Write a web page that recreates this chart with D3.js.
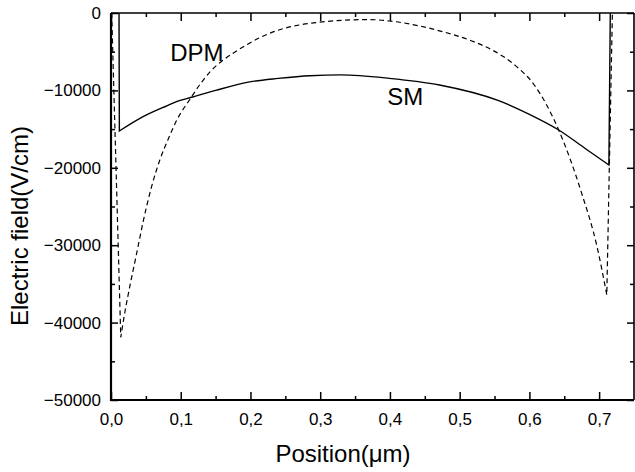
<!DOCTYPE html>
<html>
<head>
<meta charset="utf-8">
<script src="https://cdn.jsdelivr.net/npm/d3@7"></script>
<style>
  html, body { margin: 0; padding: 0; background: #fff; }
  svg { display: block; font-family: "Liberation Sans", Arial, sans-serif; }
</style>
</head>
<body>
<svg id="chart" width="635" height="472"></svg>
<script>
// ---- data ----
const smX  = [0.0115, 0.012, 0.046, 0.080, 0.094, 0.117, 0.150, 0.199, 0.240, 0.285, 0.330, 0.399, 0.471, 0.556, 0.600, 0.642, 0.680, 0.714, 0.716];
const smY  = [0, -15250, -13400, -12000, -11460, -10850, -10000, -8900, -8450, -8100, -8000, -8440, -9300, -11330, -13100, -15120, -17500, -19640, 0];

const dpmX = [0.001, 0.014, 0.020, 0.027, 0.0367, 0.046, 0.058, 0.070, 0.082, 0.094, 0.115, 0.127, 0.142, 0.161, 0.175, 0.194, 0.237, 0.270, 0.298, 0.342, 0.370, 0.399, 0.471, 0.520, 0.547, 0.580, 0.607, 0.642, 0.675, 0.697, 0.711, 0.719];
const dpmY = [0, -41900, -38600, -35300, -31100, -27000, -22500, -19000, -16300, -13900, -10900, -9300, -7600, -6070, -5200, -4130, -2300, -1550, -1200, -900, -850, -1030, -2300, -3700, -4800, -6800, -9300, -15120, -23300, -30190, -36430, 0];

const xTicks = [0, 0.1, 0.2, 0.3, 0.4, 0.5, 0.6, 0.7];
const xMinor = [0.05, 0.15, 0.25, 0.35, 0.45, 0.55, 0.65];
const yTicks = [0, -10000, -20000, -30000, -40000, -50000];
const yMinor = [-5000, -15000, -25000, -35000, -45000];

const labels = [{text: "DPM", x: 0.085, y: -6200}, {text: "SM", x: 0.396, y: -11900}];
const xTitle = "Position(μm)";
const yTitle = "Electric field(V/cm)";

// ---- layout ----
const L = 111, R = 634, T = 13, B = 400;
const svg = d3.select("#chart");
const x = d3.scaleLinear().domain([0, 0.75]).range([L, R]);
const y = d3.scaleLinear().domain([-50000, 0]).range([B, T]);
const fmt = d => d3.format(".1f")(d).replace(".", ",");

// curve: straight end segments (sharp vertices), smooth interior
function curvePath(xs, ys) {
  const pts = d3.zip(xs, ys);
  const first = pts[0], last = pts[pts.length - 1];
  const inner = pts.slice(1, -1);
  const smooth = d3.line().x(d => x(d[0])).y(d => y(d[1])).curve(d3.curveMonotoneX)(inner);
  return `M${x(first[0])},${y(first[1])}L` + smooth.slice(1) + `L${x(last[0])},${y(last[1])}`;
}
svg.append("path").attr("d", curvePath(dpmX, dpmY))
  .attr("fill", "none").attr("stroke", "#000").attr("stroke-width", 1.2)
  .attr("stroke-dasharray", "5,3.5");
svg.append("path").attr("d", curvePath(smX, smY))
  .attr("fill", "none").attr("stroke", "#000").attr("stroke-width", 1.4);

// axes
function styleAxis(g) {
  g.select(".domain").remove();
  g.selectAll(".tick line").attr("stroke", "#000").attr("stroke-width", 1.5);
  g.selectAll(".tick text").attr("fill", "#000").style("font-size", "17px")
    .style("font-family", "'Liberation Sans', Arial, sans-serif");
}
svg.append("g").attr("transform", `translate(0,${B})`)
  .call(d3.axisBottom(x).tickValues(xTicks).tickFormat(fmt).tickSize(-8).tickPadding(13)).call(styleAxis);
svg.append("g").attr("transform", `translate(0,${B})`)
  .call(d3.axisBottom(x).tickValues(xMinor).tickFormat("").tickSize(-4)).call(styleAxis);
svg.append("g").attr("transform", `translate(0,${T})`)
  .call(d3.axisTop(x).tickValues(xTicks).tickFormat("").tickSize(-8)).call(styleAxis);
svg.append("g").attr("transform", `translate(0,${T})`)
  .call(d3.axisTop(x).tickValues(xMinor).tickFormat("").tickSize(-4)).call(styleAxis);
svg.append("g").attr("transform", `translate(${L},0)`)
  .call(d3.axisLeft(y).tickValues(yTicks).tickFormat(d3.format("d")).tickSize(-7).tickPadding(10)).call(styleAxis);
svg.append("g").attr("transform", `translate(${L},0)`)
  .call(d3.axisLeft(y).tickValues(yMinor).tickFormat("").tickSize(-4)).call(styleAxis);
svg.append("g").attr("transform", `translate(${R},0)`)
  .call(d3.axisRight(y).tickValues(yTicks).tickFormat("").tickSize(-7)).call(styleAxis);
svg.append("g").attr("transform", `translate(${R},0)`)
  .call(d3.axisRight(y).tickValues(yMinor).tickFormat("").tickSize(-4)).call(styleAxis);

// frame
svg.append("line").attr("x1", L).attr("x2", R).attr("y1", T).attr("y2", T).attr("stroke", "#000").attr("stroke-width", 1.6);
svg.append("line").attr("x1", R).attr("x2", R).attr("y1", T).attr("y2", B).attr("stroke", "#000").attr("stroke-width", 1.6);
svg.append("line").attr("x1", L).attr("x2", R).attr("y1", B).attr("y2", B).attr("stroke", "#000").attr("stroke-width", 2.2);
svg.append("line").attr("x1", L).attr("x2", L).attr("y1", T).attr("y2", B + 1).attr("stroke", "#000").attr("stroke-width", 2.2);

// curve labels
svg.selectAll("text.lbl").data(labels).enter().append("text").attr("class", "lbl")
  .attr("x", d => x(d.x)).attr("y", d => y(d.y))
  .style("font-size", "24px").attr("fill", "#000").text(d => d.text);

// axis titles
svg.append("text").attr("x", 343).attr("y", 462).attr("text-anchor", "middle")
  .style("font-size", "24px").attr("fill", "#000").text(xTitle);
svg.append("text").attr("transform", "translate(28,226) rotate(-90)").attr("text-anchor", "middle")
  .style("font-size", "24px").attr("fill", "#000").text(yTitle);
</script>
</body>
</html>
